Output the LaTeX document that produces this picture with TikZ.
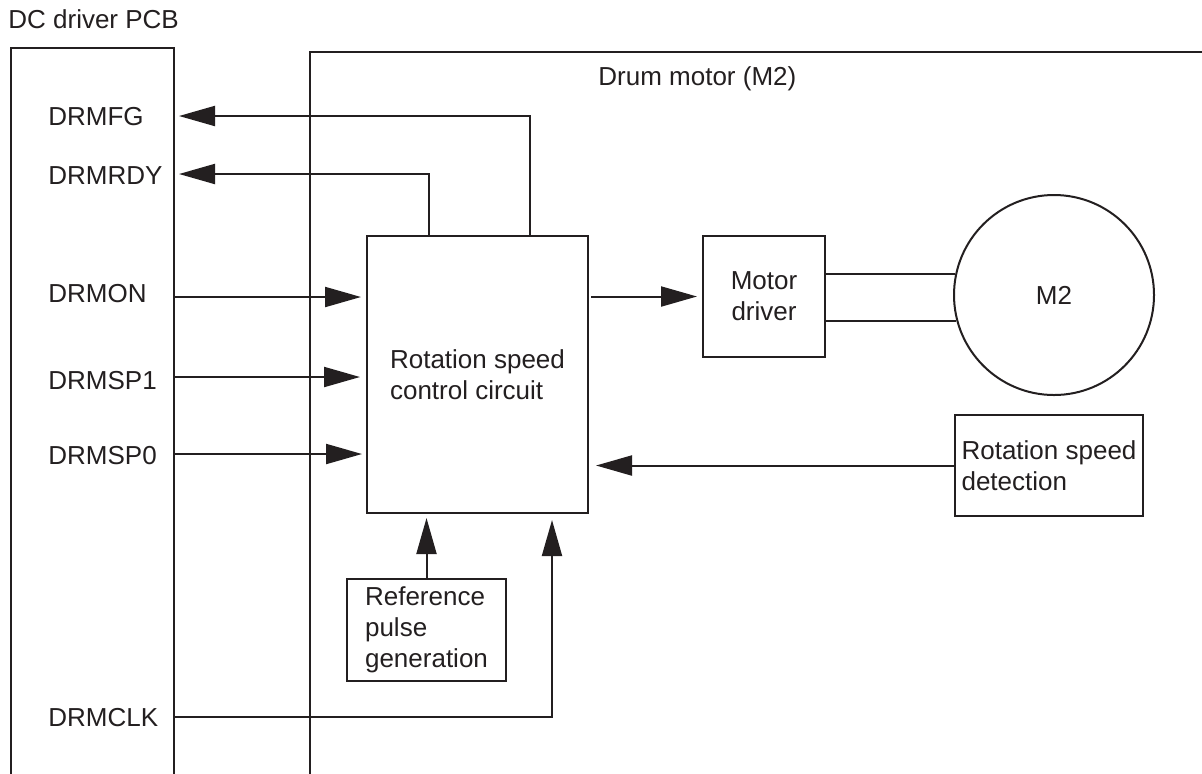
\documentclass[tikz,border=0pt]{standalone}
\usepackage{fontspec}
\setmainfont{Liberation Sans}
\usetikzlibrary{arrows.meta,calc}
\definecolor{ink}{RGB}{35,31,32}
\newcommand\dfont{\fontsize{13pt}{15.4pt}\selectfont}
\begin{document}
\begin{tikzpicture}[x=0.5pt,y=-0.5pt,
  box/.style={draw=ink, line width=1pt, rectangle, inner sep=0pt, font=\dfont, text=ink},
  wire/.style={draw=ink, line width=1pt},
  arr/.style={draw=ink, line width=1pt, -{Triangle[length=18pt,width=10pt]}},
  lbl/.style={anchor=base west, inner sep=0pt, font=\dfont, text=ink}]
\useasboundingbox (0,0) rectangle (1202,773);
\clip (0,0) rectangle (1202,773);
\fill[white] (0,0) rectangle (1202,773);

% outer frames
\node[box, anchor=north west, minimum width=81.5pt, minimum height=400pt] (pcb) at (10,47) {};
\node[box, anchor=north west, minimum width=500pt, minimum height=400pt] (drum) at (309,51) {};

% titles
\node[lbl] (pcbt) at (8,28) {DC driver PCB};
\node[lbl] (drumt) at (598,85) {Drum motor (M2)};

% signal labels
\node[lbl] (lfg) at (48,125) {DRMFG};
\node[lbl] (lrdy) at (48,184) {DRMRDY};
\node[lbl] (lon) at (48,302) {DRMON};
\node[lbl] (lsp1) at (48,389) {DRMSP1};
\node[lbl] (lsp0) at (48,464) {DRMSP0};
\node[lbl] (lclk) at (48,726) {DRMCLK};

% blocks
\node[box, minimum width=110.5pt, minimum height=138.5pt, align=left] (main) at (477.5,374.5) {Rotation speed\\control circuit};
\node[box, minimum width=61pt, minimum height=60.5pt, align=center] (md) at (764,296.5) {Motor\\driver};
\node[draw=ink, line width=1pt, circle, minimum size=100pt, inner sep=0pt, font=\dfont, text=ink] (m2) at (1054,295) {M2};
\node[box, minimum width=94pt, minimum height=50.5pt, align=left] (rsd) at (1049,465.5) {Rotation speed\\detection};
\node[box, minimum width=79.5pt, minimum height=51pt, align=left] (ref) at (426.5,630) {Reference\\pulse\\generation};

% connectors
\coordinate (fgc) at (530,116);
\coordinate (rdyc) at (429,174);
\coordinate (clkc) at (552,717);
\draw[arr, shorten >=2pt] (fgc |- main.north) -- (fgc) -- (pcb.east |- fgc);
\draw[arr, shorten >=2pt] (rdyc |- main.north) -- (rdyc) -- (pcb.east |- rdyc);
\draw[arr, shorten >=2.5pt] (pcb.east |- 0,297) -- (main.west |- 0,297);
\draw[arr, shorten >=3pt] (pcb.east |- 0,377) -- (main.west |- 0,377);
\draw[arr, shorten >=2pt] (pcb.east |- 0,454) -- (main.west |- 0,454);
\draw[arr, shorten >=2.5pt, shorten <=1pt] (main.east |- md.west) -- (md.west);
\draw[wire] (m2.168 -| md.east) -- (m2.168);
\draw[wire] (m2.195 -| md.east) -- (m2.195);
\draw[arr, shorten >=3.5pt] (rsd.west) -- (main.east |- rsd.west);
\draw[arr, shorten >=2pt] (ref.north) -- (main.south -| ref.north);
\draw[arr, shorten >=3pt] (pcb.east |- clkc) -- (clkc) -- (clkc |- main.south);
\end{tikzpicture}
\end{document}
